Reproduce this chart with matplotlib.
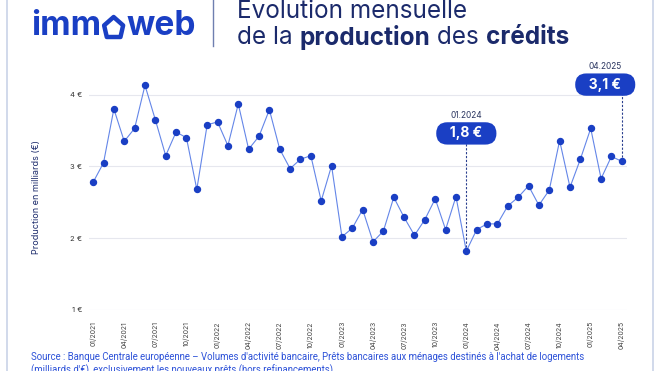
import matplotlib
matplotlib.use('Agg')
import matplotlib.pyplot as plt
from matplotlib.lines import Line2D
from matplotlib.patches import Polygon

plt.rcParams['font.family'] = ['Inter', 'DejaVu Sans']

# production mensuelle en milliards d'euros, 01/2021 -> 04/2025
months = ['01/2021', '02/2021', '03/2021', '04/2021', '05/2021', '06/2021',
          '07/2021', '08/2021', '09/2021', '10/2021', '11/2021', '12/2021',
          '01/2022', '02/2022', '03/2022', '04/2022', '05/2022', '06/2022',
          '07/2022', '08/2022', '09/2022', '10/2022', '11/2022', '12/2022',
          '01/2023', '02/2023', '03/2023', '04/2023', '05/2023', '06/2023',
          '07/2023', '08/2023', '09/2023', '10/2023', '11/2023', '12/2023',
          '01/2024', '02/2024', '03/2024', '04/2024', '05/2024', '06/2024',
          '07/2024', '08/2024', '09/2024', '10/2024', '11/2024', '12/2024',
          '01/2025', '02/2025', '03/2025', '04/2025']
production = [2.78, 3.05, 3.80, 3.35, 3.53, 4.13, 3.65, 3.15, 3.48, 3.40,
              2.68, 3.58, 3.62, 3.29, 3.87, 3.24, 3.42, 3.79, 3.24, 2.97,
              3.10, 3.15, 2.52, 3.01, 2.02, 2.14, 2.40, 1.95, 2.10, 2.57,
              2.29, 2.04, 2.26, 2.55, 2.12, 2.58, 1.82, 2.12, 2.20, 2.20,
              2.45, 2.57, 2.73, 2.46, 2.67, 3.36, 2.71, 3.10, 3.53, 2.83,
              3.14, 3.07]
y_ticks = [1, 2, 3, 4]
# (mois, date affichée, valeur affichée, hauteur bulle, décalage x bulle)
callouts = [('01/2024', '01.2024', '1,8 €', 3.46, 0.0),
            ('04/2025', '04.2025', '3,1 €', 4.14, -1.6)]

navy = '#1b2a6b'
blue = '#1a3fc4'
line_blue = '#6486e8'
W, H = 660, 371

fig = plt.figure(figsize=(6.6, 3.71), dpi=100)
fig.patch.set_facecolor('white')

# card border
fig.add_artist(Line2D([7/W, 7/W], [0, 1], color='#c9d3e8', lw=1.2))
fig.add_artist(Line2D([653/W, 653/W], [0, 1], color='#c9d3e8', lw=1.2))
fig.add_artist(Line2D([213/W, 213/W], [1 - 46/H, 1], color='#6f7fb0', lw=1.0))

fig.canvas.draw()
renderer = fig.canvas.get_renderer()

# logo : imm + maison + web
base = 1 - 35/H
t1 = fig.text(31/W, base, 'imm', fontsize=24, fontweight='bold',
              color=blue, va='baseline', ha='left')
x0 = 31 + t1.get_window_extent(renderer).width + 3
hw, hh = 19, 20
house = [(x0 + 0.14*hw, 37), (x0 + 0.86*hw, 37), (x0 + hw, 37 - 0.58*hh),
         (x0 + 0.5*hw, 37 - hh), (x0, 37 - 0.58*hh)]
fig.add_artist(Polygon([(px/W, 1 - py/H) for px, py in house], closed=True,
                       fill=False, ec=blue, lw=3.2, joinstyle='round',
                       transform=fig.transFigure))
fig.text((x0 + hw + 3)/W, base, 'web', fontsize=24, fontweight='bold',
         color=blue, va='baseline', ha='left')

# titre
fig.text(237/W, 1 - 11/H, 'Evolution mensuelle', fontsize=17.5,
         color=navy, va='center', ha='left')
x = 237/W
for txt, w in [('de la ', 'normal'), ('production', 'bold'),
               (' des ', 'normal'), ('crédits', 'bold')]:
    t = fig.text(x, 1 - 38/H, txt, fontsize=17.5, fontweight=w,
                 color=navy, va='center', ha='left')
    x += t.get_window_extent(renderer).width / W

ax = fig.add_axes([89/W, 1 - 310/H, (627 - 89)/W, (310 - 80.3)/H])
idx = list(range(len(months)))
ax.plot(idx, production, color=line_blue, lw=0.8, zorder=2)
ax.plot(idx, production, 'o', color=blue, ms=4.3, zorder=3)

ax.set_xlim(-0.4, len(months) - 0.5)
ax.set_ylim(1, 4.2)
ax.set_yticks(y_ticks)
ax.set_yticklabels([f'{v} €' for v in y_ticks], fontsize=5.5, color='#333333')
ax.set_xticks(idx[::3])
ax.set_xticklabels(months[::3], rotation=90, fontsize=5, color='#444444')
ax.tick_params(length=0, pad=8, axis='x')
ax.tick_params(length=0, pad=5, axis='y')
ax.grid(axis='y', color='#e6e7ee', lw=0.8)
ax.set_axisbelow(True)
for s in ax.spines.values():
    s.set_visible(False)

fig.text(37/W, 1 - 197/H, 'Production en milliards (€)', rotation=90,
         fontsize=6.5, color=navy, va='center', ha='center')

for m, lab, val, ytop, dx in callouts:
    i = months.index(m)
    yv = production[i]
    ax.plot([i, i], [yv, ytop], color='#2a3f8f', lw=0.8, ls=(0, (2, 1.5)),
            zorder=1, clip_on=False)
    ax.text(i + dx, ytop, '   ' + val + '   ', fontsize=10, fontweight='bold',
            color='white', ha='center', va='center', zorder=5, clip_on=False,
            bbox=dict(boxstyle='round,pad=0.3,rounding_size=0.8',
                      fc=blue, ec='none'))
    ax.text(i + dx, ytop + 0.25, lab, fontsize=6, color='#2a3560',
            ha='center', va='center', clip_on=False)

fig.text(31/W, 1 - 357/H,
         "Source : Banque Centrale européenne – Volumes d'activité bancaire, "
         "Prêts bancaires aux ménages destinés à l'achat de logements",
         fontsize=6.95, color='#2d52d8', va='center', ha='left',
         family=['Roboto', 'DejaVu Sans'])
fig.text(31/W, 1 - 370/H,
         "(milliards d'€), exclusivement les nouveaux prêts (hors refinancements)",
         fontsize=6.95, color='#2d52d8', va='center', ha='left',
         family=['Roboto', 'DejaVu Sans'])

fig.savefig('out.png', dpi=100)
